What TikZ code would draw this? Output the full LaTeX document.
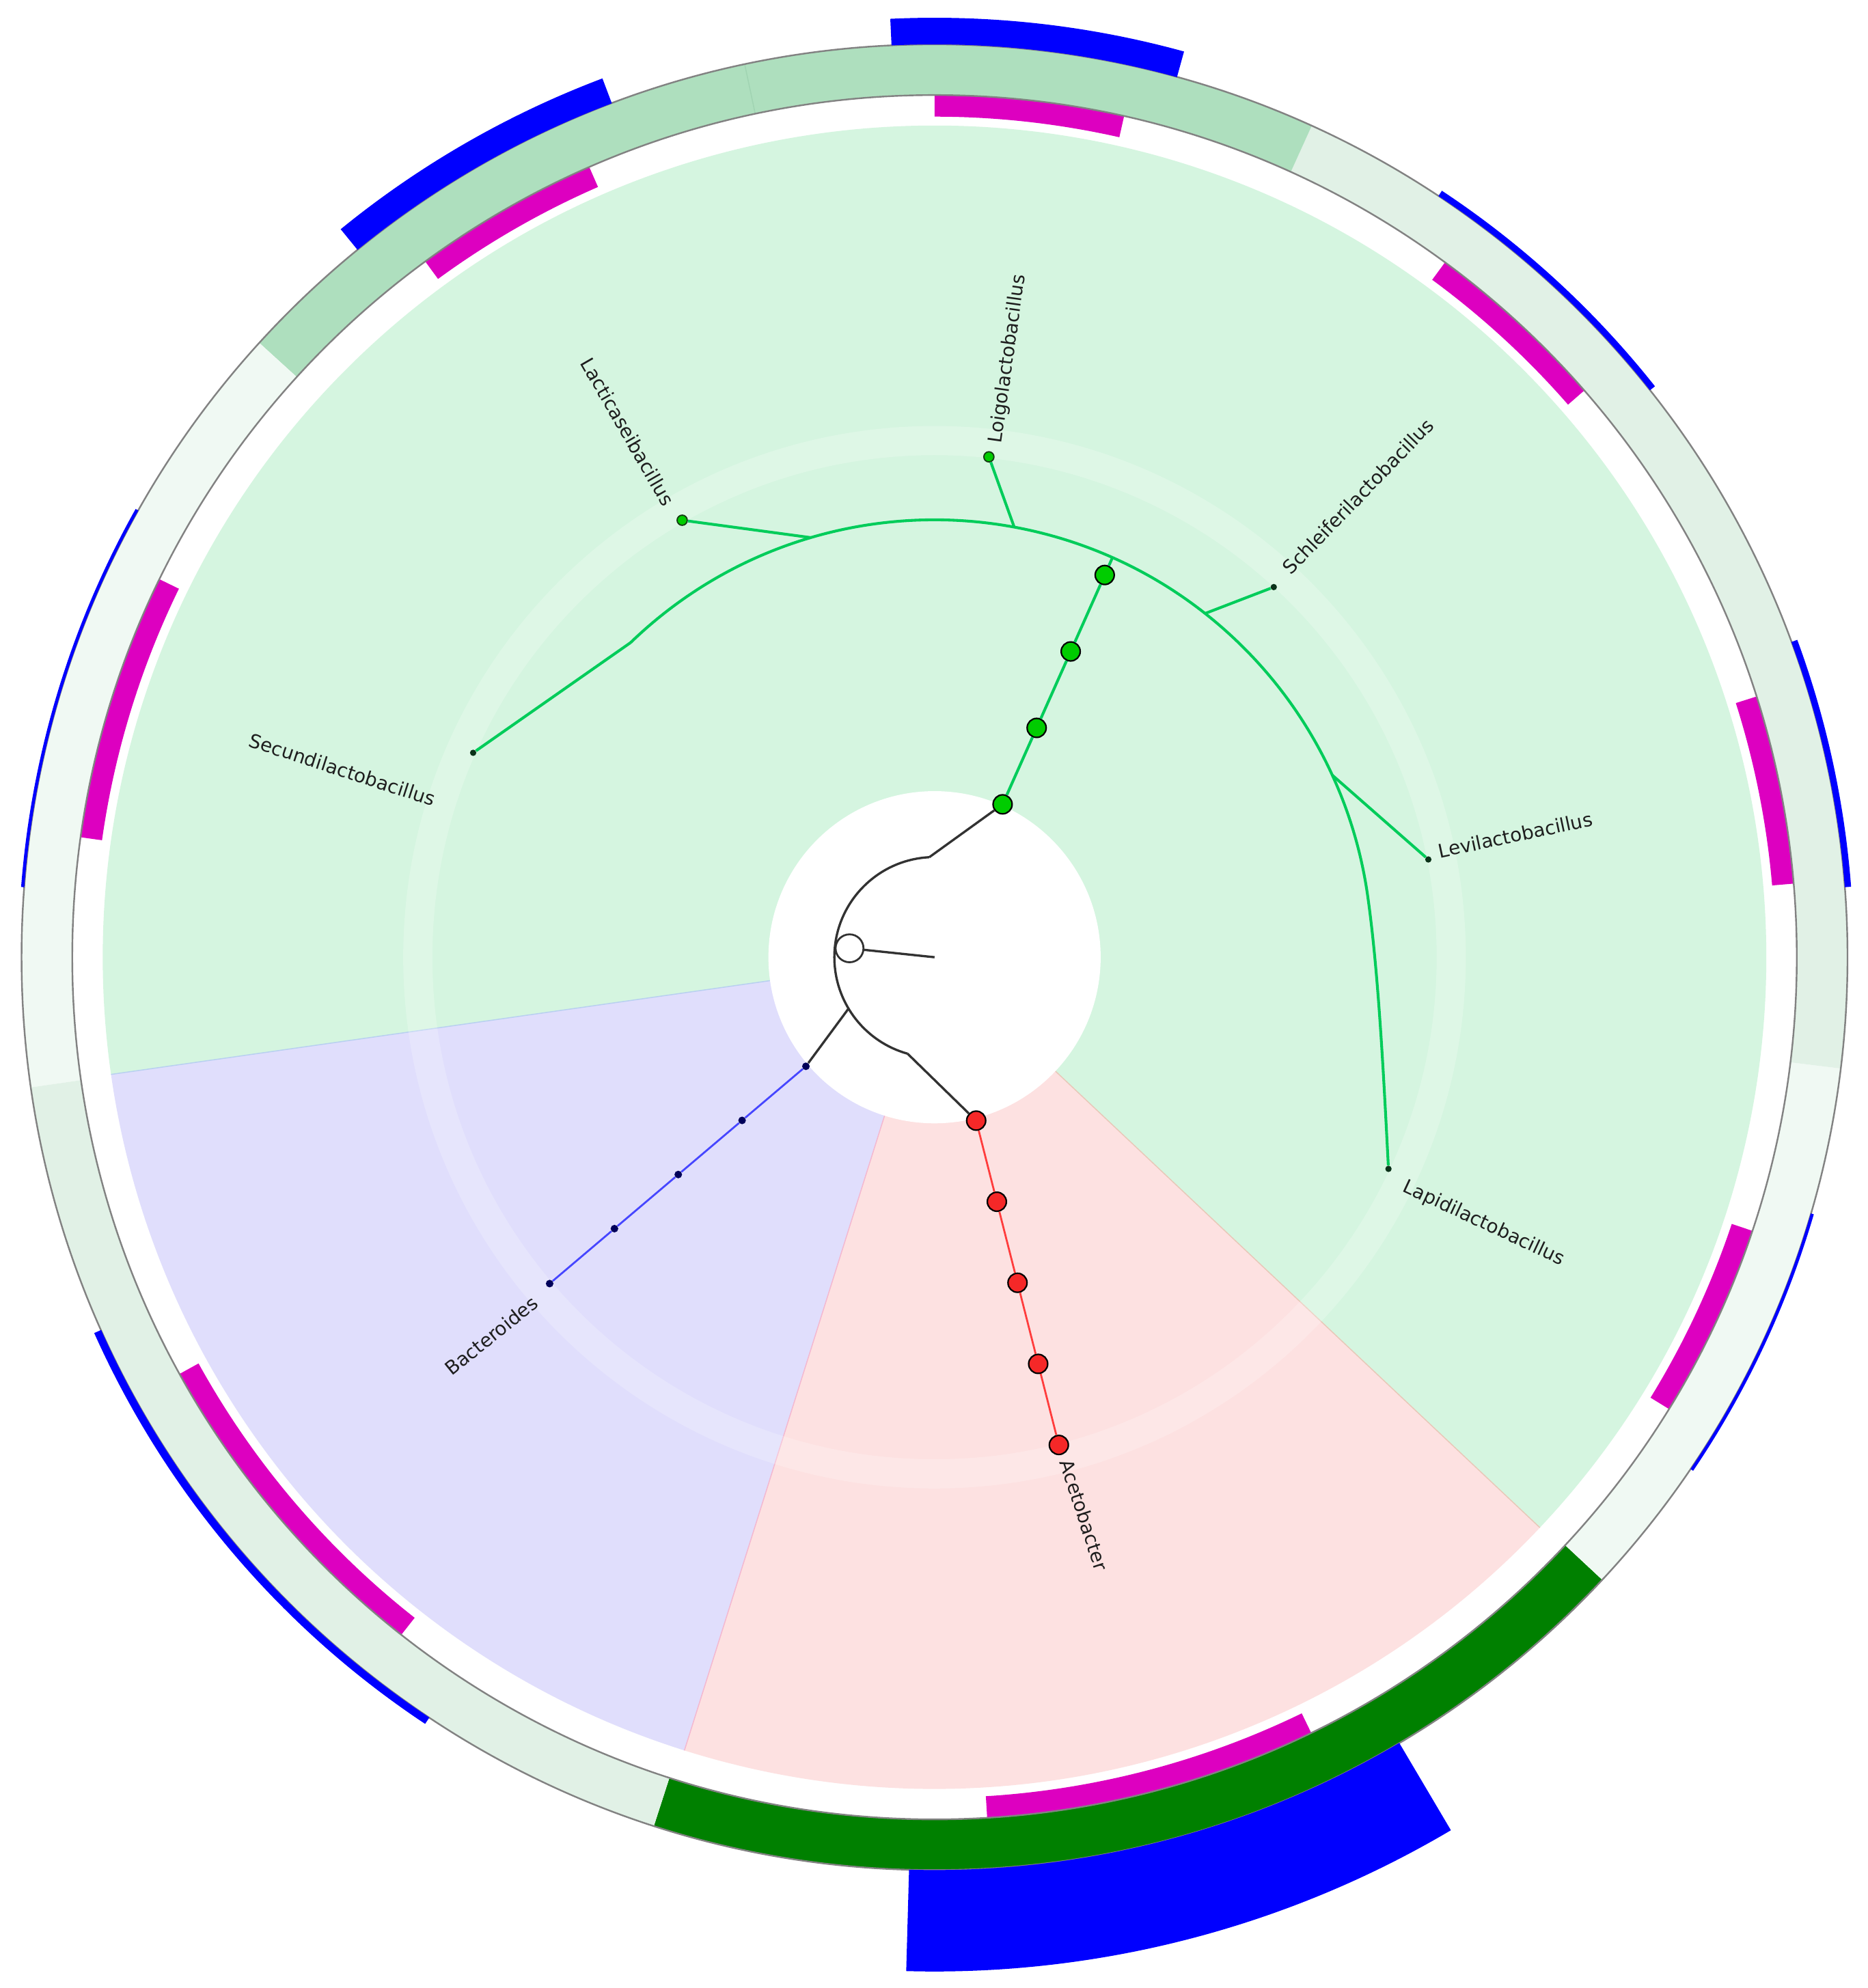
\documentclass[tikz,border=0pt]{standalone}
\usepackage{fontspec}
\setmainfont{DejaVu Sans}
\definecolor{secG}{RGB}{213,245,224}
\definecolor{secP}{RGB}{224,222,252}
\definecolor{secR}{RGB}{253,225,225}
\definecolor{ringDG}{RGB}{0,128,0}
\definecolor{ringMG}{RGB}{174,223,190}
\definecolor{ringL1}{RGB}{225,241,230}
\definecolor{ringL2}{RGB}{240,249,243}
\definecolor{magbar}{RGB}{221,0,192}
\definecolor{bluebar}{RGB}{0,0,255}
\definecolor{brG}{RGB}{0,204,90}
\definecolor{nodeG}{RGB}{0,204,0}
\definecolor{brR}{RGB}{255,60,60}
\definecolor{nodeR}{RGB}{245,40,40}
\definecolor{brB}{RGB}{70,70,255}
\definecolor{nodeB}{RGB}{0,0,90}
\definecolor{txt}{RGB}{30,30,30}
\newcommand{\annsec}[5]{\fill[#1] (#2:#4pt) arc[start angle=#2, end angle=#3, radius=#4pt] -- (#3:#5pt) arc[start angle=#3, end angle=#2, radius=#5pt] -- cycle;}
\tikzset{
  blk/.style={draw={rgb,255:red,50;green,50;blue,50}, line width=1.8pt},
  brgrn/.style={draw=brG, line width=2.2pt},
  brred/.style={draw=brR, line width=1.5pt},
  brblue/.style={draw=brB, line width=1.5pt},
  bigG/.style={circle, fill=nodeG, draw=black, line width=1.2pt, minimum size=15pt, inner sep=0pt},
  bigR/.style={circle, fill=nodeR, draw=black, line width=1.2pt, minimum size=15pt, inner sep=0pt},
  smallB/.style={circle, fill=nodeB, minimum size=6pt, inner sep=0pt},
  leafG/.style={circle, fill=nodeG, draw={rgb,255:red,20;green,60;blue,20}, line width=1pt, minimum size=8pt, inner sep=0pt},
  leafdot/.style={circle, fill={rgb,255:red,10;green,50;blue,25}, minimum size=5pt, inner sep=0pt},
  rootnode/.style={circle, fill=white, draw={rgb,255:red,50;green,50;blue,50}, line width=1.5pt, minimum size=22pt, inner sep=0pt},
  lbl/.style={text=txt, font=\fontsize{15}{18}\selectfont, inner sep=0pt}
}
\begin{document}
\begin{tikzpicture}
\useasboundingbox (-737pt,-813pt) rectangle (736pt,755pt);
\fill[white] (-737pt,-813pt) rectangle (736pt,755pt);
% background sectors
\fill[secG] (0,0) -- (-43.3:656pt) arc[start angle=-43.3, end angle=188.1, radius=656pt] -- cycle;
\fill[secP] (0,0) -- (188.1:656pt) arc[start angle=188.1, end angle=252.5, radius=656pt] -- cycle;
\fill[secR] (0,0) -- (252.5:656pt) arc[start angle=252.5, end angle=316.7, radius=656pt] -- cycle;
\draw[line width=0.8pt, draw={rgb,255:red,184;green,208;blue,240}] (0,0) -- (188.1:656pt);
\draw[line width=0.8pt, draw={rgb,255:red,244;green,184;blue,208}] (0,0) -- (252.5:656pt);
\draw[line width=0.8pt, draw={rgb,255:red,232;green,200;blue,184}] (0,0) -- (-43.3:656pt);
% faint band
\draw[white, opacity=0.22, line width=23pt] (0,0) circle[radius=407.5pt];
% inner white disc
\fill[white] (0,0) circle[radius=131pt];
% magenta bars
\annsec{magbar}{77.3}{90}{663}{680}
\annsec{magbar}{113.6}{126.2}{663}{680}
\annsec{magbar}{41.1}{53.7}{663}{680}
\annsec{magbar}{4.9}{17.6}{663}{680}
\annsec{magbar}{-31.6}{-18.5}{663}{680}
\annsec{magbar}{-86.5}{-64.1}{663}{680}
\annsec{magbar}{208.9}{231.8}{663}{680}
\annsec{magbar}{154}{172}{663}{680}
% outer ring
\annsec{ringDG}{-107.9}{-43}{680}{720}
\annsec{ringL2}{-43}{-7}{680}{720}
\annsec{ringL1}{-7}{65.6}{680}{720}
\annsec{ringMG}{65.6}{137.7}{680}{720}
\annsec{ringL2}{137.7}{188.2}{680}{720}
\annsec{ringL1}{188.2}{252.1}{680}{720}
\draw[line width=0.8pt, draw={rgb,255:red,160;green,212;blue,178}] (102:680pt) -- (102:720pt);
\draw[line width=1.3pt, draw={rgb,255:red,130;green,130;blue,130}] (0,0) circle[radius=680pt];
\draw[line width=1.3pt, draw={rgb,255:red,130;green,130;blue,130}] (0,0) circle[radius=720pt];
% blue bars
\annsec{bluebar}{74.6}{92.7}{720}{741}
\annsec{bluebar}{110.7}{129.2}{720}{741}
\annsec{bluebar}{38.4}{56.5}{720}{725}
\annsec{bluebar}{4.4}{20.2}{720}{725}
\annsec{bluebar}{-34.1}{-16.3}{720}{722.5}
\annsec{bluebar}{-91.6}{-59.4}{720}{800}
\annsec{bluebar}{204.1}{236.4}{720}{726}
\annsec{bluebar}{150.7}{175.6}{720}{722.5}
% tree: black backbone
\coordinate (ctr) at (0,0);
\coordinate (kt) at (93:79pt);
\coordinate (kbl) at (211:79.5pt);
\coordinate (kb) at (254.4:79pt);
\node[rootnode] (root) at (174:67.4pt) {};
\draw[blk] (root) -- (ctr);
\draw[blk] (kt) arc[start angle=93, end angle=254.4, radius=79pt];
% green clade
\coordinate (ga) at (66:345pt);
\coordinate (gs) at (134:345pt);
\coordinate (gl) at (106.4:345pt);
\coordinate (go) at (79.5:345pt);
\coordinate (gf) at (51.8:345pt);
\coordinate (gv) at (24.6:345pt);
\node[leafdot] (secundi) at (156.1:398pt) {};
\node[leafG] (lacti) at (120:398pt) {};
\node[leafG] (loigo) at (83.8:397pt) {};
\node[leafdot] (schlei) at (47.5:396pt) {};
\node[leafdot] (levi) at (11.2:397pt) {};
\node[leafdot] (lapidi) at (-25:395pt) {};
\draw[brgrn] (gs) arc[start angle=134, end angle=8, radius=345pt] .. controls (350pt,-11pt) and (354pt,-90pt) .. (lapidi);
\draw[brgrn] (gs) -- (secundi);
\draw[brgrn] (gl) -- (lacti);
\draw[brgrn] (go) -- (loigo);
\draw[brgrn] (gf) -- (schlei);
\draw[brgrn] (gv) -- (levi);
\node[bigG] (g1) at (66:132pt) {};
\node[bigG] (g2) at (66:198pt) {};
\node[bigG] (g3) at (66:264pt) {};
\node[bigG] (g4) at (66:330pt) {};
\draw[blk] (kt) -- (g1);
\draw[brgrn] (g1) -- (g2);
\draw[brgrn] (g2) -- (g3);
\draw[brgrn] (g3) -- (g4);
\draw[brgrn] (g4) -- (ga);
% red clade
\node[bigR] (r1) at (-75.7:133pt) {};
\node[bigR] (r2) at (-75.7:199pt) {};
\node[bigR] (r3) at (-75.7:265pt) {};
\node[bigR] (r4) at (-75.7:331pt) {};
\node[bigR] (r5) at (-75.7:397pt) {};
\draw[blk] (kb) -- (r1);
\draw[brred] (r1) -- (r2);
\draw[brred] (r2) -- (r3);
\draw[brred] (r3) -- (r4);
\draw[brred] (r4) -- (r5);
% blue clade
\node[smallB] (b1) at (220.3:133pt) {};
\node[smallB] (b2) at (220.3:199pt) {};
\node[smallB] (b3) at (220.3:265pt) {};
\node[smallB] (b4) at (220.3:331pt) {};
\node[smallB] (b5) at (220.3:398pt) {};
\draw[blk] (kbl) -- (b1);
\draw[brblue] (b1) -- (b2);
\draw[brblue] (b2) -- (b3);
\draw[brblue] (b3) -- (b4);
\draw[brblue] (b4) -- (b5);
% labels
\node[lbl, rotate=82] (tloigo) at (58pt,472pt) {Loigolactobacillus};
\node[lbl, rotate=-60] (tlacti) at (-242pt,414.5pt) {Lacticaseibacillus};
\node[lbl, rotate=-18] (tsecundi) at (-467pt,148pt) {Secundilactobacillus};
\node[lbl, rotate=46] (tschlei) at (334pt,363.5pt) {Schleiferilactobacillus};
\node[lbl, rotate=12] (tlevi) at (458pt,96.5pt) {Levilactobacillus};
\node[lbl, rotate=-25] (tlapidi) at (433pt,-210pt) {Lapidilactobacillus};
\node[lbl, rotate=-72] (taceto) at (118pt,-440pt) {Acetobacter};
\node[lbl, rotate=39] (tbacter) at (-349.5pt,-298.5pt) {Bacteroides};
\end{tikzpicture}
\end{document}
